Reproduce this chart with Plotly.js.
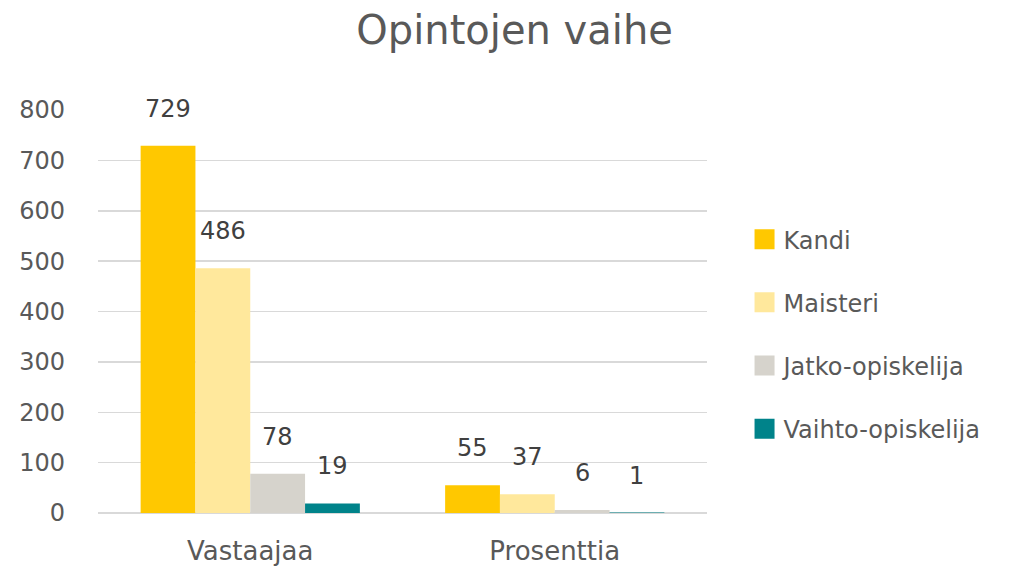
<!DOCTYPE html>
<html>
<head>
<meta charset="utf-8">
<script src="https://cdn.plot.ly/plotly-3.0.1.min.js"></script>
<style>
html,body{margin:0;padding:0;background:#fff;}
#chart{width:1021px;height:567px;}
</style>
</head>
<body>
<div id="chart"></div>
<script>
const categories = ["Vastaajaa", "Prosenttia"];
const seriesNames = ["Kandi", "Maisteri", "Jatko-opiskelija", "Vaihto-opiskelija"];
const kandi = [729, 55];
const maisteri = [486, 37];
const jatko = [78, 6];
const vaihto = [19, 1];
const yTicks = [0, 100, 200, 300, 400, 500, 600, 700, 800];
const colors = ["#FFC800", "#FFE89C", "#D6D3CC", "#00838A"];

const seriesValues = [kandi, maisteri, jatko, vaihto];
const FONT = "DejaVu Sans, sans-serif";

const W = 1021, H = 567;
const margin = {l: 98, r: 314, t: 110, b: 54};
const bargap = 0.28;
const plotW = W - margin.l - margin.r;
const barPx = plotW / categories.length * (1 - bargap) / seriesValues.length;

const traces = seriesValues.map((vals, i) => ({
  type: "bar",
  name: seriesNames[i],
  x: categories,
  y: vals,
  marker: {color: colors[i]},
  legendgroup: "g" + i,
  hoverinfo: "skip"
}));

const annotations = [];
seriesValues.forEach((vals, i) => {
  vals.forEach((v, j) => {
    annotations.push({
      x: categories[j], y: v, xref: "x", yref: "y",
      text: String(v), showarrow: false,
      xshift: (i - (seriesValues.length - 1) / 2) * barPx,
      yshift: 37, yanchor: "middle",
      font: {family: FONT, size: 24, color: "#404040"}
    });
  });
});

const layout = {
  width: W, height: H,
  margin: margin,
  paper_bgcolor: "#fff", plot_bgcolor: "#fff",
  barmode: "group",
  bargap: bargap,
  bargroupgap: 0,
  title: {
    text: "Opintojen vaihe",
    x: 0.504, xref: "container", xanchor: "center",
    y: 0.947, yref: "container", yanchor: "middle",
    font: {family: FONT, size: 40, color: "#595959"}
  },
  xaxis: {
    type: "category",
    showgrid: false, showline: false, zeroline: false,
    ticks: "",
    ticklabelstandoff: 20,
    tickfont: {family: FONT, size: 26, color: "#595959"}
  },
  yaxis: {
    range: [0, 800],
    tickvals: yTicks,
    ticktext: yTicks.map(String),
    showgrid: true, gridcolor: "#D9D9D9", gridwidth: 1.5,
    zeroline: true, zerolinecolor: "#D9D9D9", zerolinewidth: 1.5,
    showline: false, ticks: "",
    ticklabelstandoff: 32,
    tickfont: {family: FONT, size: 24, color: "#595959"}
  },
  showlegend: true,
  legend: {
    x: 1.06, xanchor: "left",
    y: 0.444, yanchor: "middle",
    traceorder: "grouped",
    tracegroupgap: 29,
    font: {family: FONT, size: 24, color: "#595959"},
    bgcolor: "rgba(0,0,0,0)"
  },
  annotations: annotations
};

Plotly.newPlot("chart", traces, layout, {displayModeBar: false, staticPlot: true}).then(() => {
  document.querySelectorAll("#chart .legendpoints path").forEach(p => {
    p.setAttribute("d", "M-9,-10H11V10H-9Z");
    p.style.strokeWidth = "0";
  });
});
</script>
</body>
</html>
